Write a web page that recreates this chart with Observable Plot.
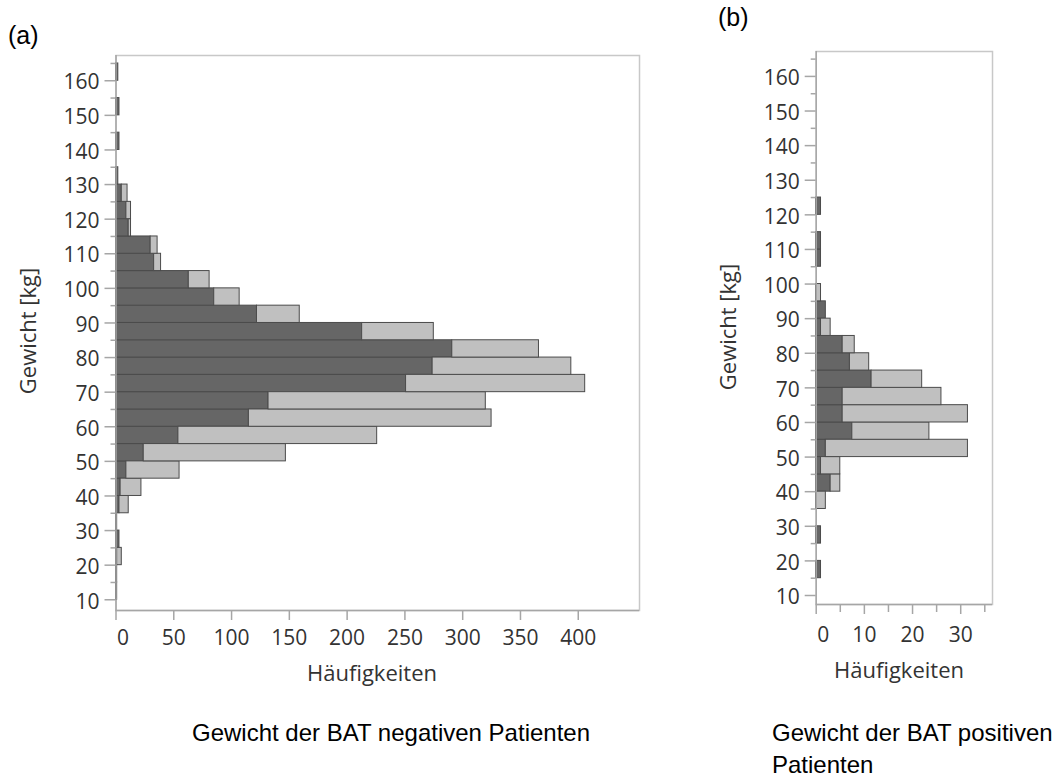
<!DOCTYPE html>
<html><head><meta charset="utf-8">
<script src="https://cdn.jsdelivr.net/npm/d3@7"></script>
<script src="https://cdn.jsdelivr.net/npm/@observablehq/plot@0.6"></script>
<style>
body{margin:0;background:#fff;}
#wrap{position:relative;width:1057px;height:780px;overflow:hidden;background:#fff;}
.abs{position:absolute;white-space:nowrap;}
.cap{font-family:Arial,"Liberation Sans",sans-serif;color:#000;line-height:1;}
.axl{font-family:"Open Sans",sans-serif;color:#333;font-size:22px;line-height:1;}
</style></head><body>
<div id="wrap">
  <div class="abs" id="pa" style="left:0;top:0"></div>
  <div class="abs" id="pb" style="left:700px;top:0"></div>
  <div class="abs cap" style="left:8px;top:23px;font-size:25px">(a)</div>
  <div class="abs cap" style="left:718px;top:5px;font-size:25px">(b)</div>
  <div class="abs axl" style="left:27px;top:331px;transform:translate(-50%,-50%) rotate(-90deg)">Gewicht [kg]</div>
  <div class="abs axl" style="left:727px;top:327px;transform:translate(-50%,-50%) rotate(-90deg)">Gewicht [kg]</div>
  <div class="abs axl" style="left:372px;top:672px;transform:translate(-50%,-50%)">Häufigkeiten</div>
  <div class="abs axl" style="left:899px;top:669px;transform:translate(-50%,-50%)">Häufigkeiten</div>
  <div class="abs cap" style="left:192px;top:721px;font-size:24px">Gewicht der BAT negativen Patienten</div>
  <div class="abs cap" style="left:772px;top:721px;font-size:24px">Gewicht der BAT positiven</div>
  <div class="abs cap" style="left:772px;top:753px;font-size:24px">Patienten</div>
</div>
<script>
// 5-kg weight bins (lower bound of each bin)
const binStart = [10,15,20,25,30,35,40,45,50,55,60,65,70,75,80,85,90,95,100,105,110,115,120,125,130,135,140,145,150,155,160];
const binWidth = 5;
// (a) BAT negative patients: dark part and total bar length
const negDark  = [1,1,1,3,1,3,4,9,24,54,115,132,251,274,291,213,122,85,63,33,30,11,9,5,2,0,3,0,3,0,2];
const negTotal = [1,1,5,3,1,11,22,55,147,226,325,320,406,394,366,275,159,107,81,39,36,13,13,10,2,0,3,0,3,0,2];
// (b) BAT positive patients
const posDark  = [0,1,0,1,0,0,3,1,2,7.5,5.5,5.5,11.5,7,5.5,1,2,0,0,1,1,0,1,0,0,0,0,0,0,0,0];
const posTotal = [0,1,0,1,0,2,5,5,31.5,23.5,31.5,26,22,11,8,3,2,1,0,1,1,0,1,0,0,0,0,0,0,0,0];

const yMajor = [10,20,30,40,50,60,70,80,90,100,110,120,130,140,150,160];
const yMinor = [15,25,35,45,55,65,75,85,95,105,115,125,135,145,155,165];
const xTicksA = [0,50,100,150,200,250,300,350,400];
const xTicksB = [0,10,20,30];
const xMinorB = [5,15,25,35];

const DARK = "#666666", LIGHT = "#c0c0c0", EDGE = "#4b4b4b";
const FRAME = "#c8c8c8", AXIS = "#a6a6a6", TXT = "#333333";

function rows(dark, total) {
  return binStart.map((b, i) => ({y1: b, y2: b + binWidth, dark: dark[i], total: total[i]}));
}

function panel({data, xDomain, yDomain, xTicks, xMinor, width, height, ml, mr, mt, mb, xLabPad}) {
  return Plot.plot({
    width, height,
    marginLeft: ml, marginRight: mr, marginTop: mt, marginBottom: mb,
    x: {domain: xDomain},
    y: {domain: yDomain},
    style: {fontFamily: "'Open Sans', sans-serif", fontSize: "21px", color: TXT, background: "transparent", overflow: "visible"},
    marks: [
      Plot.frame({stroke: FRAME, strokeWidth: 1.5}),
      Plot.rectX(data.filter(d => d.dark > 0), {x1: 0, x2: "dark", y1: "y1", y2: "y2", fill: DARK, stroke: EDGE, strokeWidth: 1}),
      Plot.rectX(data.filter(d => d.total > d.dark), {x1: "dark", x2: "total", y1: "y1", y2: "y2", fill: LIGHT, stroke: EDGE, strokeWidth: 1}),
      Plot.ruleX([0], {stroke: AXIS, strokeWidth: 1.5}),
      Plot.ruleY([yDomain[0]], {stroke: AXIS, strokeWidth: 1.5}),
      // y ticks
      Plot.axisY({ticks: yMajor, tickSize: 11, tickFormat: () => "", stroke: AXIS, strokeWidth: 1.5, label: null}),
      Plot.axisY({ticks: yMinor, tickSize: 5, tickFormat: () => "", stroke: AXIS, strokeWidth: 1.5, label: null}),
      Plot.axisY({ticks: yMajor, tickSize: 0, tickPadding: 16.5, dy: 2, label: null, fill: TXT}),
      // x ticks
      Plot.axisX({ticks: xTicks, tickSize: 10, tickFormat: () => "", stroke: AXIS, strokeWidth: 1.5, label: null}),
      ...(xMinor ? [Plot.axisX({ticks: xMinor, tickSize: 8, tickFormat: () => "", stroke: AXIS, strokeWidth: 1.5, label: null})] : []),
      Plot.axisX({ticks: xTicks.filter(t => t !== 0), tickSize: 0, tickPadding: xLabPad, label: null, fill: TXT}),
      Plot.axisX({ticks: [0], tickSize: 0, tickPadding: xLabPad, dx: 7, label: null, fill: TXT})
    ]
  });
}

document.getElementById("pa").appendChild(panel({
  data: rows(negDark, negTotal),
  xDomain: [0, 453], yDomain: [6.9, 167.3], xTicks: xTicksA, xMinor: null,
  width: 650, height: 700, ml: 115.5, mr: 11, mt: 55, mb: 90, xLabPad: 20
}));
document.getElementById("pb").appendChild(panel({
  data: rows(posDark, posTotal),
  xDomain: [0, 36.6], yDomain: [7.4, 167.2], xTicks: xTicksB, xMinor: xMinorB,
  width: 357, height: 700, ml: 115.7, mr: 65, mt: 51, mb: 96, xLabPad: 23
}));
</script>
</body></html>
